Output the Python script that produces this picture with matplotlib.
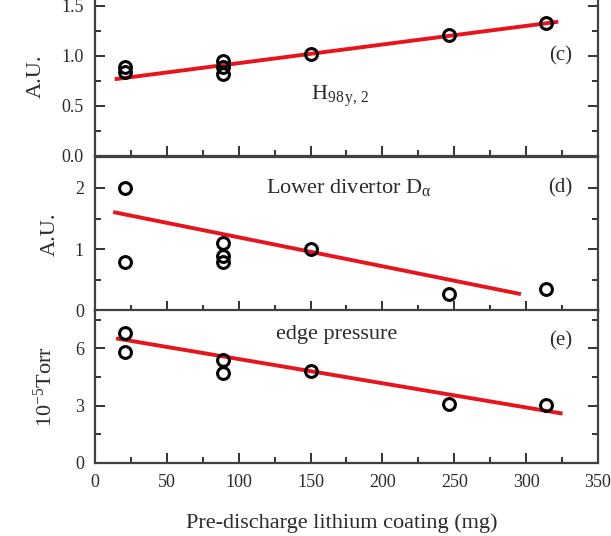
import matplotlib
matplotlib.use("Agg")
import matplotlib.pyplot as plt
from matplotlib.ticker import MultipleLocator

plt.rcParams['font.family'] = ['Liberation Serif', 'DejaVu Serif']
plt.rcParams['mathtext.fontset'] = 'custom'
plt.rcParams['mathtext.rm'] = 'Liberation Serif'
plt.rcParams['mathtext.it'] = 'Liberation Serif'

# Panel (c): H98y,2
c_x = [21, 21, 89, 89, 89, 150, 246, 314]
c_y = [0.89, 0.84, 0.95, 0.89, 0.82, 1.02, 1.21, 1.33]
c_fit_x = [15, 321]
c_fit_y = [0.77, 1.34]

# Panel (d): Lower divertor D_alpha
d_x = [21, 21, 89, 89, 89, 150, 246, 314]
d_y = [2.0, 0.8, 1.1, 0.9, 0.8, 1.0, 0.28, 0.35]
d_fit_x = [14, 295]
d_fit_y = [1.6, 0.28]

# Panel (e): edge pressure
e_x = [21, 21, 89, 89, 150, 246, 314]
e_y = [6.8, 5.8, 5.4, 4.7, 4.8, 3.1, 3.05]
e_fit_x = [16, 324]
e_fit_y = [6.5, 2.6]

TXT = '#2b2b2b'
fig = plt.figure(figsize=(6.11, 5.36), dpi=100)
L, W = 0.1555, 0.8232
ax_c = fig.add_axes([L, 0.709, W, 0.2985])
ax_d = fig.add_axes([L, 0.4198, W, 0.2873])
ax_e = fig.add_axes([L, 0.1362, W, 0.2854])

spec = [
    (ax_c, c_x, c_y, c_fit_x, c_fit_y, (0, 1.6), 0.5, 0.25, '%.1f'),
    (ax_d, d_x, d_y, d_fit_x, d_fit_y, (0, 2.5), 1, 0.5, '%d'),
    (ax_e, e_x, e_y, e_fit_x, e_fit_y, (0, 8), 3, 1.5, '%d'),
]
for ax, x, y, fx, fy, yl, maj, mnr, fmt in spec:
    ax.plot(fx, fy, color='#e8141c', lw=2.8, zorder=2)
    ax.plot(x, y, 'o', ms=8.5, mfc='none', mec='black', mew=2.2, zorder=3)
    ax.set_xlim(0, 350)
    ax.set_ylim(*yl)
    ax.xaxis.set_major_locator(MultipleLocator(50))
    ax.xaxis.set_minor_locator(MultipleLocator(25))
    ax.yaxis.set_major_locator(MultipleLocator(maj))
    ax.yaxis.set_minor_locator(MultipleLocator(mnr))
    ax.yaxis.set_major_formatter(matplotlib.ticker.FormatStrFormatter(fmt))
    ax.tick_params(which='both', direction='in', left=True, right=True,
                   top=False, bottom=True, color='#333333', labelsize=13,
                   labelcolor=TXT)
    ax.tick_params(which='major', length=7, width=1.4, pad=8)
    ax.tick_params(which='minor', length=4, width=1.4)
    for s in ax.spines.values():
        s.set_linewidth(1.6)
        s.set_color('#404040')
    if ax is not ax_e:
        ax.tick_params(labelbottom=False)

ax_c.set_ylabel('A.U.', fontsize=16, color=TXT, labelpad=11)
ax_d.set_ylabel('A.U.', fontsize=16, color=TXT, labelpad=11)
ax_e.set_ylabel(r'10$^{-5}$Torr', fontsize=16, color=TXT, labelpad=13)
ax_e.set_xlabel('Pre-discharge lithium coating (mg)', fontsize=16,
                color=TXT, labelpad=16)
ax_e.xaxis.label.set_x(0.49)

ax_c.text(150, 0.6, r'H$_{98\,y,\,2}$', fontsize=16, color=TXT,
          ha='left', va='center')
ax_c.text(0.925, 0.625, '(c)', transform=ax_c.transAxes, fontsize=15,
          color=TXT, ha='center', va='center')
ax_d.text(0.505, 0.8, r'Lower divertor D$_{\alpha}$', transform=ax_d.transAxes,
          fontsize=16, color=TXT, ha='center', va='center')
ax_d.text(0.925, 0.8, '(d)', transform=ax_d.transAxes, fontsize=15,
          color=TXT, ha='center', va='center')
ax_e.text(0.48, 0.84, 'edge pressure', transform=ax_e.transAxes,
          fontsize=16, color=TXT, ha='center', va='center')
ax_e.text(0.925, 0.8, '(e)', transform=ax_e.transAxes, fontsize=15,
          color=TXT, ha='center', va='center')

fig.savefig('out.png', dpi=100)
